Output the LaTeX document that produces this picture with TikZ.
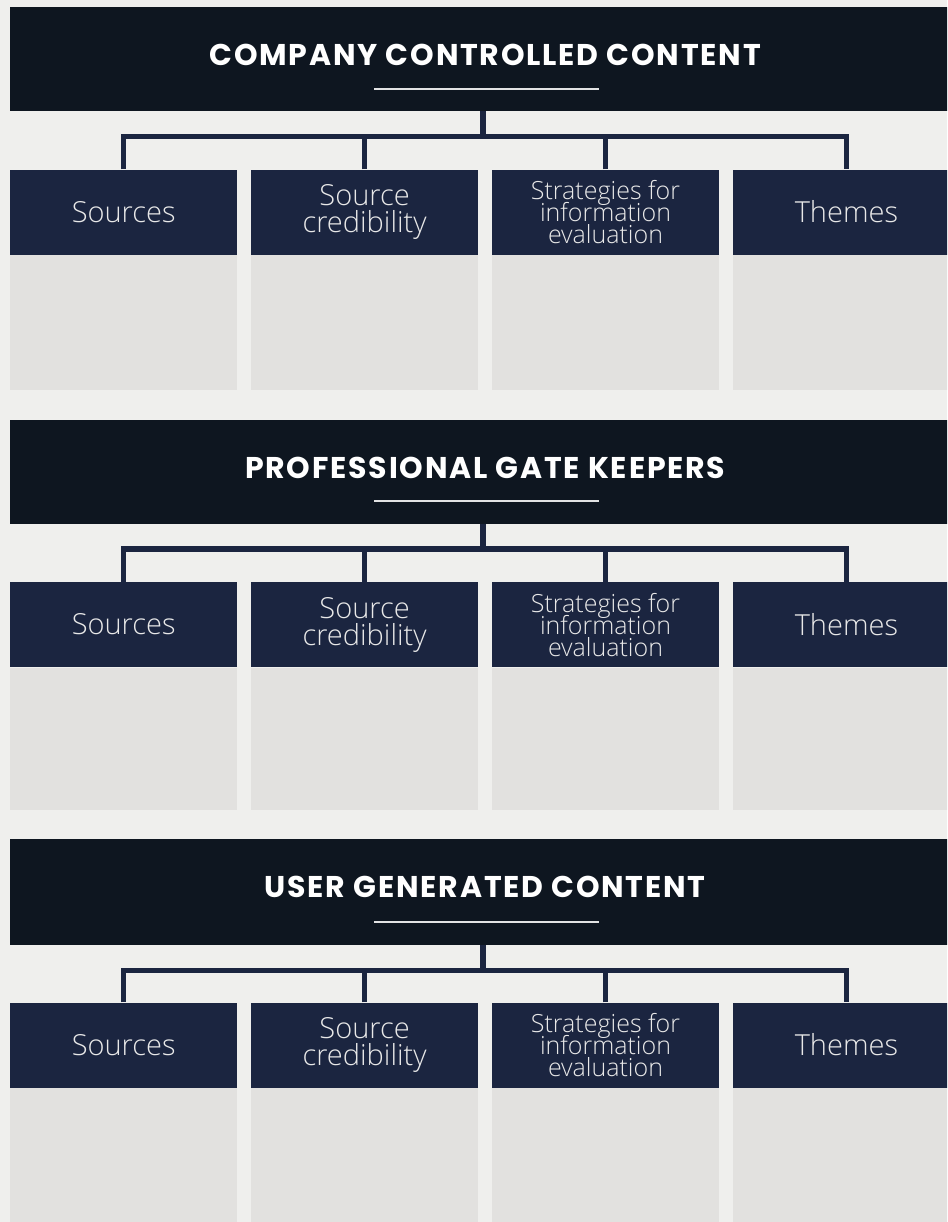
\documentclass[tikz,border=0pt]{standalone}
\usepackage{fontspec}
\usetikzlibrary{positioning}

\newfontfamily\headfont{Poppins}[LetterSpace=6]
\newfontfamily\labelfont{Open Sans Light}

\definecolor{pagebg}{HTML}{EFEFED}
\definecolor{headnavy}{HTML}{0E1620}
\definecolor{boxnavy}{HTML}{1B2540}
\definecolor{cellgrey}{HTML}{E2E1DF}
\definecolor{labelgrey}{HTML}{E8E8E8}

\begin{document}
\begin{tikzpicture}[
    x=1pt, y=-1pt,
    header/.style={fill=headnavy, minimum width=950pt, minimum height=104pt, inner sep=0pt},
    headtitle/.style={text=white, inner sep=0pt, font=\headfont\bfseries\fontsize{30}{33}\selectfont},
    underline/.style={draw=white!88!headnavy, line width=2pt},
    labelbox/.style={fill=boxnavy, text=labelgrey, minimum width=227pt, minimum height=85pt, inner sep=0pt, align=center, font=\labelfont\fontsize{29}{27}\selectfont},
    smallbox/.style={labelbox, font={\labelfont\fontsize{25}{22}\selectfont\setlength{\lineskiplimit}{-20pt}}},
    cell/.style={fill=cellgrey, minimum width=227pt, inner sep=0pt},
    link/.style={draw=boxnavy, line width=5.5pt, line join=miter}
]
\clip (0,0) rectangle (947,1222);
\fill[pagebg] (0,0) rectangle (947,1222);

% first block
\node (hd1) [header, anchor=north west] at (10,7) {};
\node (t1) [headtitle, below=37pt of hd1.north] {COMPANY CONTROLLED CONTENT};
\draw [underline] (hd1.south) ++(-111,-22.7) -- ++(225,0);
\node (s1a) [labelbox, below=58pt of hd1.south west, anchor=north west] {Sources};
\node (s1b) [labelbox, right=13.5pt of s1a] {Source\\credibility};
\node (s1c) [smallbox, right=13.5pt of s1b] {Strategies for\\information\\evaluation};
\node (s1d) [labelbox, right=13.5pt of s1c] {Themes};
\node (c1a) [cell, minimum height=135pt, below=0pt of s1a] {};
\node (c1b) [cell, minimum height=135pt, below=0pt of s1b] {};
\node (c1c) [cell, minimum height=135pt, below=0pt of s1c] {};
\node (c1d) [cell, minimum height=135pt, below=0pt of s1d] {};
\draw [link] (hd1.south) ++(-2,0) -- ++(0,25) coordinate (j1);
\draw [link] (s1a.north) |- (j1) -| (s1d.north);
\draw [link] (s1b.north) -- (s1b.north |- j1);
\draw [link] (s1c.north) -- (s1c.north |- j1);

% second block
\node (hd2) [header, anchor=north west] at (10,419.5) {};
\node (t2) [headtitle, below=37pt of hd2.north] {PROFESSIONAL GATE KEEPERS};
\draw [underline] (hd2.south) ++(-111,-22.7) -- ++(225,0);
\node (s2a) [labelbox, below=58pt of hd2.south west, anchor=north west] {Sources};
\node (s2b) [labelbox, right=13.5pt of s2a] {Source\\credibility};
\node (s2c) [smallbox, right=13.5pt of s2b] {Strategies for\\information\\evaluation};
\node (s2d) [labelbox, right=13.5pt of s2c] {Themes};
\node (c2a) [cell, minimum height=142pt, below=0pt of s2a] {};
\node (c2b) [cell, minimum height=142pt, below=0pt of s2b] {};
\node (c2c) [cell, minimum height=142pt, below=0pt of s2c] {};
\node (c2d) [cell, minimum height=142pt, below=0pt of s2d] {};
\draw [link] (hd2.south) ++(-2,0) -- ++(0,25) coordinate (j2);
\draw [link] (s2a.north) |- (j2) -| (s2d.north);
\draw [link] (s2b.north) -- (s2b.north |- j2);
\draw [link] (s2c.north) -- (s2c.north |- j2);

% third block
\node (hd3) [header, anchor=north west, minimum height=106pt] at (10,839) {};
\node (t3) [headtitle, below=37pt of hd3.north] {USER GENERATED CONTENT};
\draw [underline] (hd3.south) ++(-111,-23.5) -- ++(225,0);
\node (s3a) [labelbox, below=57pt of hd3.south west, anchor=north west] {Sources};
\node (s3b) [labelbox, right=13.5pt of s3a] {Source\\credibility};
\node (s3c) [smallbox, right=13.5pt of s3b] {Strategies for\\information\\evaluation};
\node (s3d) [labelbox, right=13.5pt of s3c] {Themes};
\node (c3a) [cell, minimum height=150pt, below=0pt of s3a] {};
\node (c3b) [cell, minimum height=150pt, below=0pt of s3b] {};
\node (c3c) [cell, minimum height=150pt, below=0pt of s3c] {};
\node (c3d) [cell, minimum height=150pt, below=0pt of s3d] {};
\draw [link] (hd3.south) ++(-2,0) -- ++(0,25) coordinate (j3);
\draw [link] (s3a.north) |- (j3) -| (s3d.north);
\draw [link] (s3b.north) -- (s3b.north |- j3);
\draw [link] (s3c.north) -- (s3c.north |- j3);

\end{tikzpicture}
\end{document}
